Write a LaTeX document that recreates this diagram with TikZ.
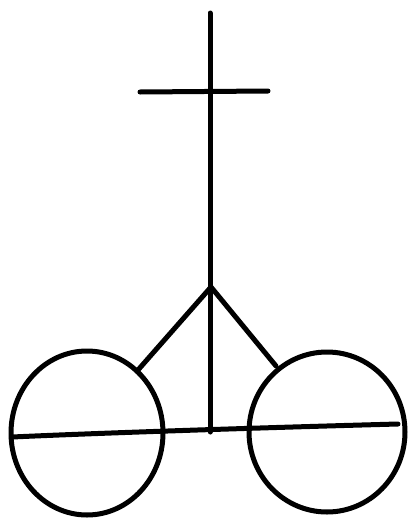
\documentclass[tikz,border=0pt]{standalone}
\begin{document}
\begin{tikzpicture}[x=1pt,y=-1pt,line cap=round,line join=round,
  stroke/.style={draw=black,line width=5pt}]
\useasboundingbox (0,0) rectangle (408,520);
\coordinate (top) at (210,13);
\coordinate (apex) at (211,287);
\coordinate (foot) at (210,432);
\coordinate (barL) at (140,92);
\coordinate (barR) at (268,91);
\coordinate (diagL) at (138,370);
\coordinate (diagR) at (276,366);
\coordinate (axL) at (12,437);
\coordinate (axR) at (398,424);
\coordinate (wheelL) at (87,433);
\coordinate (wheelR) at (327,432);
\draw[stroke] (top) -- (foot);
\draw[stroke] (barL) -- (barR);
\draw[stroke] (diagL) -- (apex) -- (diagR);
\draw[stroke] (axL) .. controls (100,433) and (250,428) .. (axR);
\draw[stroke] (wheelL) ellipse [x radius=76, y radius=82];
\draw[stroke] (wheelR) ellipse [x radius=78, y radius=80];
\end{tikzpicture}
\end{document}
